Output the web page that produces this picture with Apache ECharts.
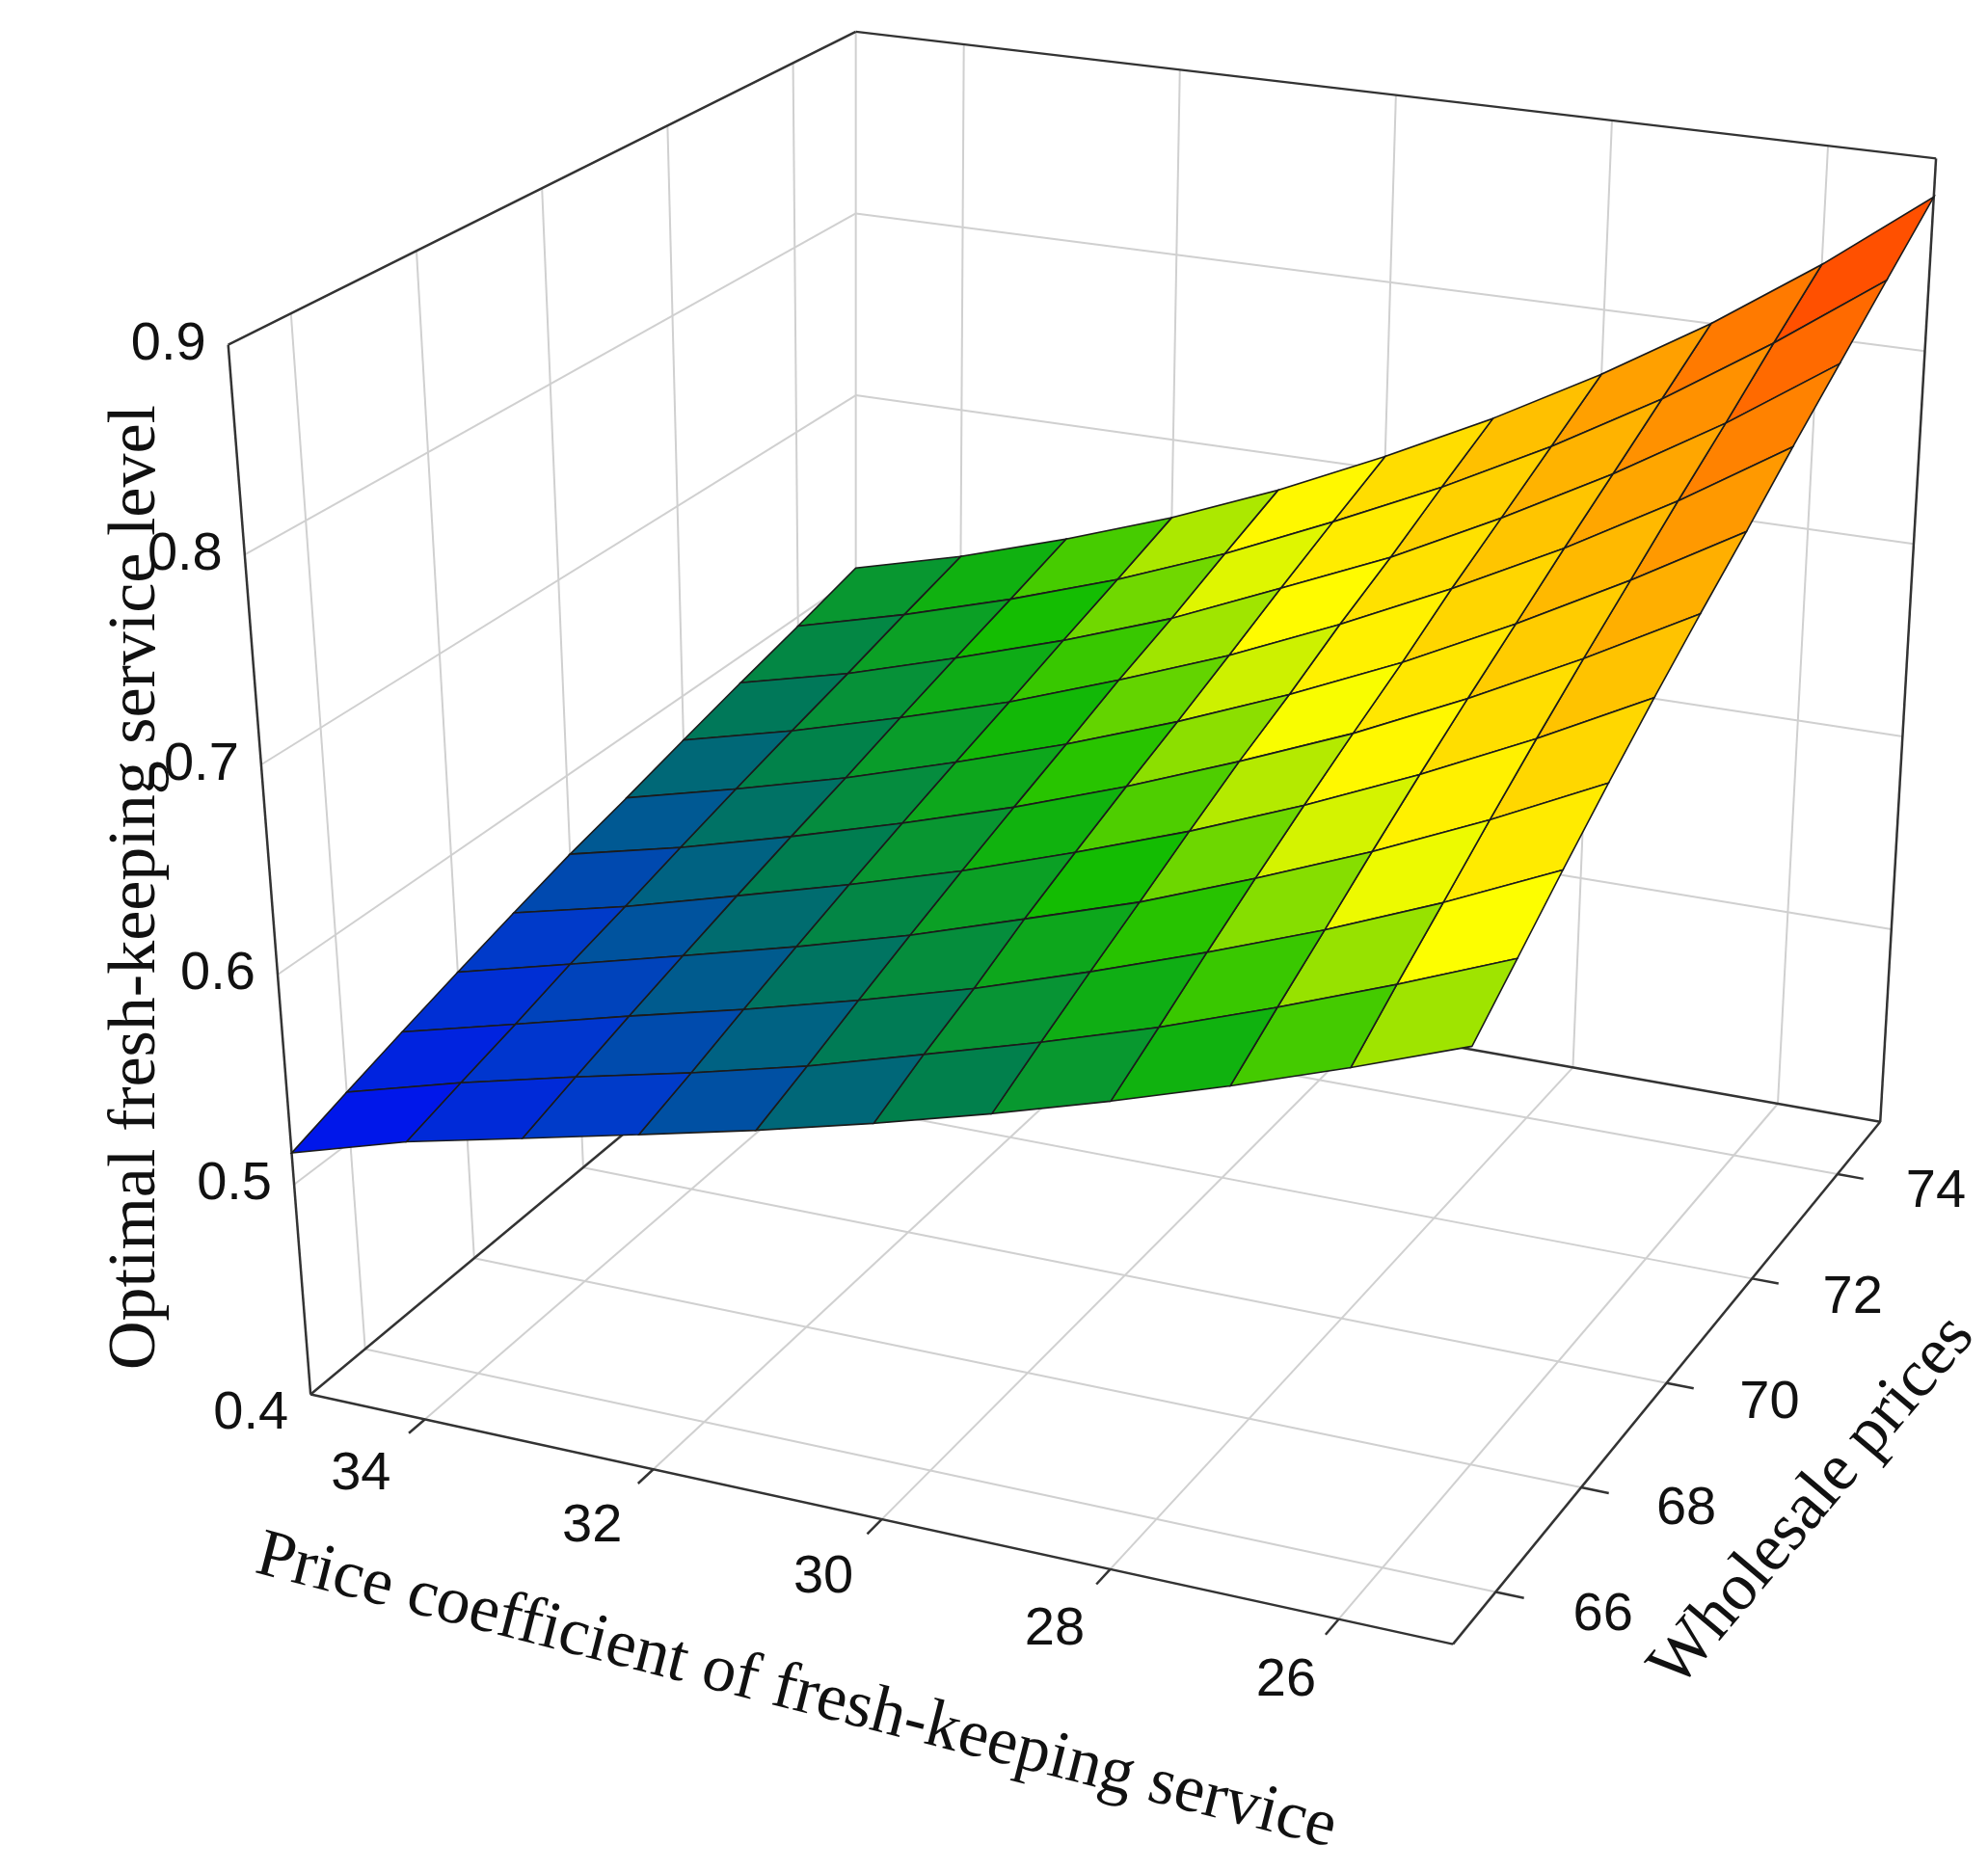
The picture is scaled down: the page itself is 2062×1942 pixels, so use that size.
<!DOCTYPE html>
<html lang="en">
<head>
<meta charset="UTF-8" />
<title>surface</title>
<style>
  html, body { margin: 0; padding: 0; background: #fff; }
  #main { width: 2062px; height: 1942px; }
</style>
</head>
<body>
<div id="main"></div>
<script src="https://cdn.jsdelivr.net/npm/echarts@6/dist/echarts.min.js"></script>
<script>
// price coefficient of fresh-keeping service (columns)
var priceCoef = [25, 26, 27, 28, 29, 30, 31, 32, 33, 34, 35]
// wholesale prices (rows)
var wholesale = [65, 66, 67, 68, 69, 70, 71, 72, 73, 74, 75]
// optimal fresh-keeping service level, level[row][col]
var level = [
  [0.660, 0.642, 0.625, 0.609, 0.594, 0.580, 0.567, 0.555, 0.543, 0.531, 0.515],
  [0.680, 0.660, 0.641, 0.623, 0.607, 0.592, 0.577, 0.564, 0.552, 0.539, 0.524],
  [0.701, 0.678, 0.657, 0.638, 0.620, 0.603, 0.588, 0.574, 0.561, 0.547, 0.533],
  [0.722, 0.697, 0.674, 0.653, 0.633, 0.616, 0.599, 0.584, 0.570, 0.556, 0.542],
  [0.743, 0.716, 0.691, 0.668, 0.647, 0.628, 0.610, 0.594, 0.579, 0.564, 0.551],
  [0.764, 0.735, 0.708, 0.683, 0.661, 0.640, 0.621, 0.604, 0.588, 0.573, 0.560],
  [0.785, 0.754, 0.725, 0.698, 0.674, 0.652, 0.632, 0.614, 0.597, 0.582, 0.568],
  [0.808, 0.774, 0.743, 0.715, 0.689, 0.665, 0.644, 0.624, 0.607, 0.591, 0.577],
  [0.831, 0.794, 0.761, 0.731, 0.703, 0.679, 0.655, 0.635, 0.617, 0.600, 0.586],
  [0.855, 0.816, 0.780, 0.748, 0.719, 0.693, 0.668, 0.646, 0.627, 0.610, 0.595],
  [0.880, 0.838, 0.800, 0.766, 0.735, 0.707, 0.681, 0.658, 0.638, 0.620, 0.605]
]
var xTicks = [26, 28, 30, 32, 34]
var yTicks = [66, 68, 70, 72, 74]
var zTicks = [0.4, 0.5, 0.6, 0.7, 0.8, 0.9]

var xMin = 25, xMax = 35, yMin = 65, yMax = 75, zMin = 0.4, zMax = 0.9
var S = 2062 / 1568
// screen corners of the box, key = u v w
var C = {
  '000': [245, 1100], '100': [1146, 1297], '010': [675, 742], '110': [1483, 885],
  '001': [180, 272], '101': [1175, 390], '011': [675, 25], '111': [1527, 125]
}
function P(u, v, w) {
  var x = 0, y = 0
  for (var a = 0; a < 2; a++) for (var b = 0; b < 2; b++) for (var c = 0; c < 2; c++) {
    var f = (a ? u : 1 - u) * (b ? v : 1 - v) * (c ? w : 1 - w)
    var p = C['' + a + b + c]
    x += f * p[0]; y += f * p[1]
  }
  return [x * S, y * S]
}
function U(x) { return (xMax - x) / (xMax - xMin) }
function V(y) { return (y - yMin) / (yMax - yMin) }
function W(z) { return (z - zMin) / (zMax - zMin) }

var stops = [
  [0, [0, 0, 255]], [0.12, [0, 60, 200]], [0.22, [0, 125, 80]], [0.33, [20, 190, 0]],
  [0.46, [255, 255, 0]], [0.7, [255, 165, 0]], [1, [255, 45, 0]]
]
function colorOf(z) {
  var t = Math.max(0, Math.min(1, (z - 0.51) / (0.88 - 0.51)))
  for (var i = 1; i < stops.length; i++) {
    if (t <= stops[i][0]) {
      var a = stops[i - 1], b = stops[i], k = (t - a[0]) / (b[0] - a[0])
      return 'rgb(' + [0, 1, 2].map(function (n) { return Math.round(a[1][n] + (b[1][n] - a[1][n]) * k) }).join(',') + ')'
    }
  }
}

var tickFont = '56px "Liberation Sans", Arial'
var titleFont = '70px "Liberation Serif", "Times New Roman", serif'
var gridStyle = { stroke: '#d0d0d0', lineWidth: 2 }
var edgeStyle = { stroke: '#333', lineWidth: 2.5 }
var elements = []
function line(p, q, st) {
  elements.push({ type: 'line', z: 0, shape: { x1: p[0], y1: p[1], x2: q[0], y2: q[1] }, style: st })
}
function text(str, p, font, rot) {
  elements.push({ type: 'text', z: 1, x: p[0], y: p[1], rotation: rot || 0,
    style: { text: str, font: font, fill: '#111', align: 'center', verticalAlign: 'middle' } })
}
// wall and floor grid
yTicks.forEach(function (y) {
  line(P(0, V(y), 0), P(0, V(y), 1), gridStyle)
  line(P(0, V(y), 0), P(1, V(y), 0), gridStyle)
  line(P(1, V(y), 0), P(1.025, V(y), 0), edgeStyle)
  text(String(y), P(1.095, V(y), 0), tickFont)
})
xTicks.forEach(function (x) {
  line(P(U(x), 1, 0), P(U(x), 1, 1), gridStyle)
  line(P(U(x), 0, 0), P(U(x), 1, 0), gridStyle)
  line(P(U(x), 0, 0), P(U(x), -0.03, 0), edgeStyle)
  text(String(x), P(U(x), -0.12, 0), tickFont)
})
zTicks.forEach(function (z) {
  if (z > zMin && z < zMax) {
    line(P(0, 0, W(z)), P(0, 1, W(z)), gridStyle)
    line(P(0, 1, W(z)), P(1, 1, W(z)), gridStyle)
  }
  var p = P(0, 0, W(z))
  text(z.toFixed(1), [p[0] - 62, p[1] + (z === zMin ? 20 : 0)], tickFont)
})
line(P(0, 1, 0), P(0, 1, 1), gridStyle)
// box edges
;[['000', '001'], ['001', '011'], ['011', '111'], ['111', '110'], ['110', '010'], ['000', '100'], ['100', '110'], ['000', '010']].forEach(function (e) {
  var a = e[0], b = e[1]
  line(P(+a[0], +a[1], +a[2]), P(+b[0], +b[1], +b[2]), edgeStyle)
})
// axis titles
text('Optimal fresh-keeping service level', [108 * S, 700 * S], titleFont, Math.PI / 2)
text('Price coefficient of fresh-keeping service', [628 * S, 1335 * S], titleFont, -0.25)
text('Wholesale prices', [1430 * S, 1185 * S], titleFont, 0.87)

// surface cells, back rows first
var cells = []
for (var j = wholesale.length - 2; j >= 0; j--) {
  for (var i = 0; i < priceCoef.length - 1; i++) cells.push([i, j])
}

var myChart = echarts.init(document.getElementById('main'))
myChart.setOption({
  backgroundColor: '#fff',
  animation: false,
  graphic: { elements: elements },
  series: [{
    type: 'custom',
    coordinateSystem: 'none',
    z: 10,
    data: cells,
    renderItem: function (params, api) {
      var i = api.value(0), j = api.value(1)
      var corners = [[i, j], [i + 1, j], [i + 1, j + 1], [i, j + 1]]
      var sum = 0
      var pts = corners.map(function (c) {
        var z = level[c[1]][c[0]]
        sum += z
        return P(U(priceCoef[c[0]]), V(wholesale[c[1]]), W(z))
      })
      return {
        type: 'polygon',
        shape: { points: pts },
        style: { fill: colorOf(sum / 4), stroke: '#1b1b1b', lineWidth: 1.6 }
      }
    }
  }]
})
</script>
</body>
</html>
